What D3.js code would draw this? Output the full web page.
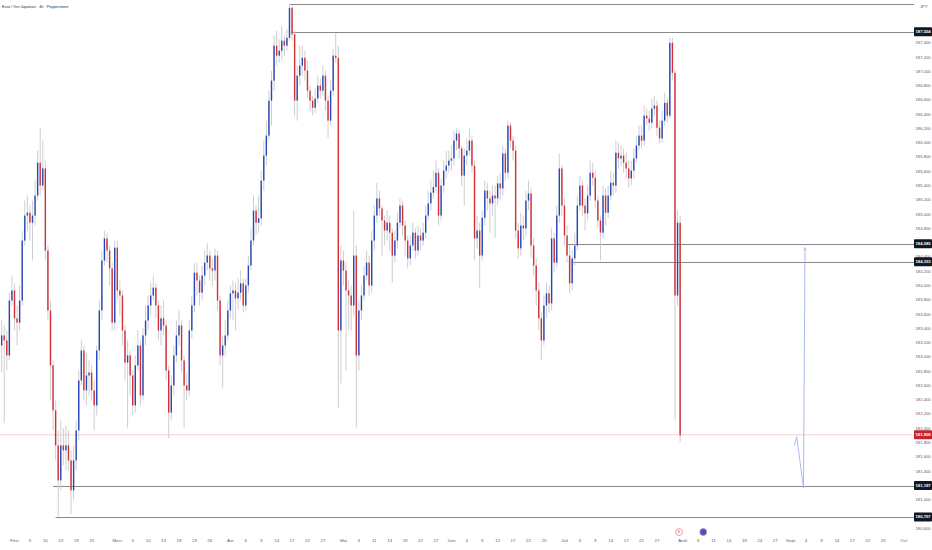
<!DOCTYPE html>
<html lang="fr">
<head>
<meta charset="utf-8">
<title>Euro / Yen Japonais · 4h · Pepperstone</title>
<script src="https://cdn.jsdelivr.net/npm/d3@7"></script>
<style>
  html, body { margin: 0; padding: 0; background: #fff; }
  #chart { width: 932px; height: 550px; }
  text { font-family: 'Liberation Sans', Arial, sans-serif; }
</style>
</head>
<body>
<div id="chart"></div>
<script>
// one bar every half trading day, first bar 2.5 days before lundi 2 févr
const firstDay = -2.5;
const barStep = 0.5;
const firstOpen = 183.16;

const closes = [
  183.30, 183.23, 183.02, 183.79, 183.93, 183.54, 183.48, 183.79, 184.63, 184.98,
  185.02, 184.88, 184.98, 185.26, 185.72, 185.40, 185.64, 184.49, 183.65, 182.88,
  182.25, 181.76, 181.27, 181.76, 181.69, 181.76, 181.55, 181.13, 181.55, 181.97,
  182.67, 183.09, 182.53, 182.74, 182.78, 182.53, 182.32, 183.09, 183.65, 184.35,
  184.66, 184.49, 184.24, 183.48, 184.53, 183.93, 183.86, 183.37, 182.92, 183.02,
  182.74, 182.32, 182.88, 183.16, 182.46, 183.30, 183.51, 183.72, 183.86, 183.97,
  183.72, 183.37, 183.54, 183.44, 182.81, 182.22, 182.60, 183.02, 183.30, 183.44,
  182.95, 182.60, 182.53, 183.37, 183.72, 184.18, 184.07, 183.90, 184.14, 184.32,
  184.42, 184.24, 184.21, 184.42, 183.79, 183.02, 183.16, 183.30, 183.65, 183.89,
  183.93, 183.82, 183.90, 184.03, 183.72, 184.00, 184.28, 184.63, 185.05, 184.88,
  184.94, 185.47, 185.82, 186.10, 186.59, 186.87, 187.36, 187.22, 187.29, 187.43,
  187.36, 187.47, 187.89, 187.52, 186.59, 186.94, 187.08, 187.19, 187.01, 186.73,
  186.59, 186.49, 186.62, 186.80, 186.73, 186.94, 186.59, 186.31, 186.73, 187.22,
  187.19, 183.37, 184.35, 184.21, 183.93, 183.86, 183.72, 184.42, 183.02, 183.65,
  183.86, 184.14, 184.32, 184.00, 184.63, 184.98, 185.22, 185.08, 184.91, 184.77,
  184.88, 184.74, 184.42, 184.63, 184.88, 185.12, 184.84, 184.63, 184.38, 184.56,
  184.74, 184.49, 184.70, 184.63, 184.74, 184.98, 185.15, 185.30, 185.38, 185.58,
  184.98, 185.40, 185.61, 185.68, 185.75, 185.78, 186.03, 186.13, 185.92, 185.54,
  185.82, 185.89, 186.03, 185.68, 184.66, 184.77, 184.42, 184.95, 185.33, 185.22,
  185.15, 185.26, 185.22, 185.43, 185.36, 185.85, 185.58, 186.24, 186.03, 185.89,
  184.77, 184.52, 184.84, 184.80, 185.19, 185.29, 184.56, 184.28, 183.93, 183.54,
  183.23, 183.72, 183.89, 183.75, 184.66, 184.32, 184.98, 185.64, 185.12, 184.70,
  184.42, 184.03, 184.38, 184.56, 185.12, 185.40, 185.12, 185.01, 185.26, 185.58,
  185.51, 185.19, 184.91, 184.74, 185.26, 185.02, 185.26, 185.44, 185.40, 185.86,
  185.78, 185.82, 185.72, 185.64, 185.50, 185.61, 185.78, 185.96, 186.10, 186.03,
  186.38, 186.34, 186.28, 186.48, 186.52, 186.21, 186.06, 186.31, 186.56, 186.38,
  187.40, 186.98, 183.86, 184.88, 181.90,
];

const highs = [
  183.51, 183.44, 183.37, 183.90, 184.14, 184.03, 183.72, 184.00, 184.77, 185.19,
  185.26, 185.12, 185.19, 185.47, 185.89, 186.21, 186.03, 185.75, 184.56, 183.79,
  182.95, 182.39, 181.97, 182.11, 182.00, 182.04, 181.97, 181.69, 181.76, 182.11,
  182.81, 183.23, 183.16, 183.05, 182.95, 182.88, 182.67, 183.16, 183.79, 184.49,
  184.77, 184.74, 184.56, 184.32, 184.63, 184.63, 184.07, 183.93, 183.44, 183.23,
  183.09, 182.81, 183.02, 183.37, 183.23, 183.40, 183.72, 183.86, 184.04, 184.14,
  184.03, 183.79, 183.72, 183.79, 183.51, 182.88, 182.74, 183.16, 183.51, 183.65,
  183.51, 183.02, 182.78, 183.51, 183.86, 184.32, 184.32, 184.14, 184.28, 184.49,
  184.59, 184.49, 184.38, 184.52, 184.49, 183.86, 183.30, 183.51, 183.79, 184.00,
  184.07, 184.04, 184.10, 184.21, 184.10, 184.10, 184.42, 184.80, 185.26, 185.12,
  185.26, 185.61, 186.03, 186.31, 186.73, 187.01, 187.50, 187.57, 187.45, 187.64,
  187.50, 187.59, 187.94, 187.92, 187.57, 187.08, 187.36, 187.36, 187.29, 187.15,
  186.80, 186.66, 186.76, 186.94, 186.90, 187.08, 187.01, 186.66, 186.87, 187.31,
  187.54, 187.36, 184.56, 184.49, 184.32, 184.07, 184.00, 185.05, 184.56, 183.79,
  184.00, 184.28, 184.49, 184.42, 184.77, 185.12, 185.44, 185.33, 185.12, 184.98,
  185.05, 184.98, 184.80, 184.77, 185.02, 185.22, 185.19, 184.91, 184.70, 184.70,
  184.88, 184.80, 184.84, 184.80, 184.88, 185.12, 185.33, 185.47, 185.61, 185.75,
  185.64, 185.50, 185.75, 185.89, 185.89, 185.96, 186.17, 186.20, 186.17, 185.96,
  185.92, 186.06, 186.20, 186.10, 185.75, 184.98, 184.88, 185.05, 185.47, 185.44,
  185.33, 185.40, 185.40, 185.54, 185.58, 185.96, 185.92, 186.31, 186.28, 186.10,
  185.96, 184.88, 185.02, 184.98, 185.33, 185.47, 185.36, 184.66, 184.38, 184.04,
  183.62, 183.86, 184.04, 184.00, 184.80, 184.74, 185.12, 185.85, 185.68, 185.22,
  184.84, 184.56, 184.49, 184.74, 185.26, 185.54, 185.47, 185.22, 185.40, 185.75,
  185.72, 185.61, 185.26, 184.98, 185.40, 185.36, 185.40, 185.61, 185.58, 186.03,
  186.00, 185.96, 185.92, 185.86, 185.75, 185.75, 185.92, 186.10, 186.24, 186.24,
  186.52, 186.48, 186.45, 186.62, 186.66, 186.59, 186.31, 186.45, 186.70, 186.62,
  187.47, 187.47, 187.03, 185.05, 184.98,
];

const lows = [
  182.78, 182.07, 182.81, 182.95, 183.72, 183.37, 183.16, 183.37, 183.72, 184.56,
  184.77, 184.63, 184.35, 184.84, 185.19, 185.26, 185.33, 184.35, 183.51, 182.39,
  181.97, 181.55, 180.76, 181.13, 181.48, 181.41, 181.41, 180.80, 180.99, 181.41,
  181.83, 182.60, 182.39, 182.32, 182.46, 182.39, 181.97, 182.18, 182.95, 183.51,
  184.28, 184.32, 184.00, 183.37, 183.37, 183.79, 183.58, 183.16, 182.67, 182.01,
  182.46, 182.18, 182.22, 182.81, 182.32, 182.39, 183.16, 183.37, 183.58, 183.79,
  183.54, 183.23, 183.16, 183.30, 182.67, 181.86, 182.11, 182.46, 182.92, 183.16,
  182.78, 182.01, 182.39, 182.46, 183.26, 183.62, 183.86, 183.72, 183.79, 184.00,
  184.21, 184.07, 184.00, 184.07, 183.65, 182.88, 182.57, 183.02, 183.23, 183.54,
  183.51, 183.37, 183.65, 183.79, 183.62, 183.65, 183.90, 184.21, 184.56, 184.70,
  184.74, 184.84, 185.33, 185.68, 186.03, 186.24, 186.73, 187.08, 187.12, 187.15,
  187.22, 187.29, 187.43, 187.43, 186.38, 186.31, 186.80, 186.94, 186.87, 186.63,
  186.45, 186.38, 186.42, 186.56, 186.62, 186.66, 186.45, 186.07, 186.24, 186.66,
  187.12, 182.28, 182.63, 184.00, 182.81, 183.37, 183.37, 183.58, 182.01, 182.81,
  183.51, 183.79, 184.07, 183.86, 183.90, 184.49, 184.88, 184.98, 184.42, 184.56,
  184.63, 184.49, 184.04, 184.32, 184.52, 184.80, 184.70, 184.42, 184.24, 184.28,
  184.49, 184.38, 184.42, 184.49, 184.56, 184.66, 184.91, 185.05, 185.22, 185.30,
  184.84, 184.91, 185.30, 185.50, 185.58, 185.61, 185.68, 185.89, 185.78, 185.40,
  185.12, 185.68, 185.82, 185.58, 184.35, 184.52, 183.97, 184.35, 184.84, 185.05,
  184.74, 184.98, 184.67, 185.12, 185.19, 185.26, 185.47, 185.50, 185.92, 185.75,
  184.66, 184.38, 184.42, 184.63, 184.70, 185.05, 184.39, 184.14, 183.72, 183.37,
  182.95, 183.16, 183.54, 183.62, 183.65, 184.18, 184.24, 184.88, 184.98, 184.56,
  184.32, 183.89, 183.93, 184.28, 184.49, 185.05, 184.98, 184.77, 184.91, 185.19,
  185.40, 185.08, 184.80, 184.35, 184.66, 184.84, 184.94, 185.19, 185.26, 185.30,
  185.64, 185.68, 185.58, 185.50, 185.37, 185.41, 185.50, 185.72, 185.89, 185.92,
  185.96, 186.24, 186.17, 186.20, 186.38, 186.10, 185.99, 186.00, 186.24, 186.28,
  186.34, 186.87, 182.11, 183.72, 181.80,
];

// time scale ticks, in trading days from lundi 2 févr
const tickDays = [0, 3, 6, 9, 12, 15, 20, 23, 26, 29, 32, 35, 38, 42, 45, 48, 51, 54, 57, 60,
  64, 67, 70, 73, 76, 79, 82, 85, 88, 91, 94, 97, 100, 103, 107, 110, 113, 116, 119, 122, 125,
  130, 133, 136, 139, 142, 145, 148, 151, 154, 157, 160, 163, 166, 169, 173];
const tickLabels = ['Févr', '5', '10', '13', '18', '23', 'Mars', '5', '10', '13', '18', '23', '26',
  'Avr', '6', '9', '14', '17', '22', '27', 'Mai', '6', '11', '14', '19', '22', '27',
  'Juin', '4', '9', '12', '17', '22', '25', 'Juil', '6', '9', '14', '17', '22', '27',
  'Août', '6', '11', '14', '19', '24', '27', 'Sept', '4', '9', '14', '17', '22', '25', 'Oct'];

// horizontal levels: price, bar where the line starts, price tag shown or not
const levelPrices = [187.944, 187.554, 184.585, 184.333, 181.197, 180.757];
const levelStartBar = [112, 113, 220, 222, 20, 21];
const levelTagged = [false, true, true, true, true, true];

const lastPrice = 181.908;

// projected move drawn after the last bar
const pathDays = [151.7, 152.2, 153.5, 153.8];
const pathPrices = [181.76, 181.88, 181.16, 184.53];

// event markers under the bars
const eventDays = [129.3, 134];
const eventKinds = ['earnings', 'dividend'];

const title = 'Euro / Yen Japonais · 4h · Pepperstone';
const currency = 'JPY';

// ------------------------------------------------------------------

const W = 932;
const H = 550;
const plotRight = 914;
const upColor = '#2548b8';
const downColor = '#d22f37';
const wickColor = '#c8c8c8';
const levelColor = '#7c7c7c';

const x = d3.scaleLinear().domain([0, 173]).range([14.5, 903.7]);
const y = d3.scaleLinear().domain([180, 188]).range([571, 0]);
const fr = d3.formatLocale({ decimal: ',', thousands: '\u202f', grouping: [3], currency: ['', ' €'] });
const fmt = fr.format('.3f');
const barDay = i => firstDay + i * barStep;

const bars = closes.map((close, i) => {
    const open = i === 0 ? firstOpen : closes[i - 1];
    return {
        day: barDay(i),
        open,
        close,
        high: Math.max(highs[i], open, close),
        low: Math.min(lows[i], open, close),
    };
});

const $svg = d3.select('#chart').append('svg')
    .attr('width', W)
    .attr('height', H);

$svg.append('defs').append('marker')
    .attr('id', 'head')
    .attr('viewBox', '0 0 6 6')
    .attr('refX', 5)
    .attr('refY', 3)
    .attr('markerWidth', 4)
    .attr('markerHeight', 4)
    .attr('orient', 'auto')
    .append('path')
    .attr('d', 'M0,0.5L5,3L0,5.5')
    .attr('fill', 'none')
    .attr('stroke', '#9fb4e6')
    .attr('stroke-width', 1);

// current price line
$svg.append('line')
    .attr('x1', 0)
    .attr('x2', plotRight)
    .attr('y1', y(lastPrice))
    .attr('y2', y(lastPrice))
    .attr('stroke', '#f6d3d6')
    .attr('stroke-width', 1);

// levels
$svg.append('g').attr('class', 'g-levels')
    .selectAll('line')
    .data(levelPrices)
    .join('line')
    .attr('x1', (d, i) => x(barDay(levelStartBar[i])))
    .attr('x2', plotRight)
    .attr('y1', d => Math.round(y(d)) + 0.5)
    .attr('y2', d => Math.round(y(d)) + 0.5)
    .attr('stroke', levelColor)
    .attr('stroke-width', 0.9);

// candles
const $bars = $svg.append('g').attr('class', 'g-bars');
$bars.selectAll('line')
    .data(bars)
    .join('line')
    .attr('x1', d => x(d.day))
    .attr('x2', d => x(d.day))
    .attr('y1', d => y(d.high))
    .attr('y2', d => y(d.low))
    .attr('stroke', wickColor)
    .attr('stroke-width', 0.9);

$bars.selectAll('rect')
    .data(bars)
    .join('rect')
    .attr('x', d => x(d.day) - 0.7)
    .attr('width', 1.4)
    .attr('y', d => y(Math.max(d.open, d.close)))
    .attr('height', d => Math.max(1, Math.abs(y(d.open) - y(d.close))))
    .attr('fill', d => (d.close >= d.open ? upColor : downColor));

// projected move
const path = d3.line().x(d => x(d[0])).y(d => y(d[1]));
$svg.append('path')
    .datum(pathDays.map((d, i) => [d, pathPrices[i]]))
    .attr('d', path)
    .attr('fill', 'none')
    .attr('stroke', '#9fb4e6')
    .attr('stroke-width', 0.9)
    .attr('marker-end', 'url(#head)');

// price scale
const tags = levelPrices
    .map(p => ({ price: p, fill: '#131722' }))
    .filter((d, i) => levelTagged[i])
    .concat([{ price: lastPrice, fill: '#c8232c' }]);

// a tick label sitting under a price tag is left out, as the platform does
const ticks = d3.range(0, 36)
    .map(k => 180.6 + k * 0.2)
    .filter(t => tags.every(d => Math.abs(y(t) - y(d.price)) > 4));

$svg.append('g').attr('class', 'g-price-axis')
    .selectAll('text')
    .data(ticks)
    .join('text')
    .attr('x', plotRight + 1.5)
    .attr('y', d => y(d))
    .attr('dy', '0.35em')
    .attr('font-size', 4.2)
    .attr('fill', '#5d606b')
    .text(d => fmt(d));

const $tags = $svg.append('g').attr('class', 'g-tags')
    .selectAll('g')
    .data(tags)
    .join('g')
    .attr('transform', d => `translate(${plotRight}, ${y(d.price)})`);
$tags.append('rect')
    .attr('x', 0)
    .attr('y', -4.5)
    .attr('width', 18)
    .attr('height', 9)
    .attr('rx', 0.8)
    .attr('fill', d => d.fill);
$tags.append('text')
    .attr('x', 1.5)
    .attr('dy', '0.35em')
    .attr('font-size', 4.2)
    .attr('font-weight', 'bold')
    .attr('fill', '#fff')
    .text(d => fmt(d.price));

$svg.append('text')
    .attr('x', plotRight + 6)
    .attr('y', 8)
    .attr('font-size', 4.2)
    .attr('fill', '#5d606b')
    .text(currency);

// time scale
$svg.append('g').attr('class', 'g-time-axis')
    .selectAll('text')
    .data(tickDays)
    .join('text')
    .attr('x', d => x(d))
    .attr('y', 542)
    .attr('text-anchor', 'middle')
    .attr('font-size', 4.4)
    .attr('fill', '#5d606b')
    .text((d, i) => tickLabels[i]);

// events
const $events = $svg.append('g').attr('class', 'g-events')
    .selectAll('g')
    .data(eventDays)
    .join('g')
    .attr('transform', d => `translate(${x(d)}, 532)`);
$events.append('circle')
    .attr('r', 3.4)
    .attr('fill', (d, i) => (eventKinds[i] === 'earnings' ? '#fff' : '#2f5bd3'))
    .attr('stroke', '#e07a80')
    .attr('stroke-width', 0.7);
$events.filter((d, i) => eventKinds[i] === 'earnings')
    .append('text')
    .attr('text-anchor', 'middle')
    .attr('dy', '0.35em')
    .attr('font-size', 3.4)
    .attr('fill', '#d05058')
    .text('E');

// title
$svg.append('text')
    .attr('x', 2)
    .attr('y', 8)
    .attr('font-size', 3.8)
    .attr('fill', '#2a2e39')
    .text(title);
</script>
</body>
</html>
